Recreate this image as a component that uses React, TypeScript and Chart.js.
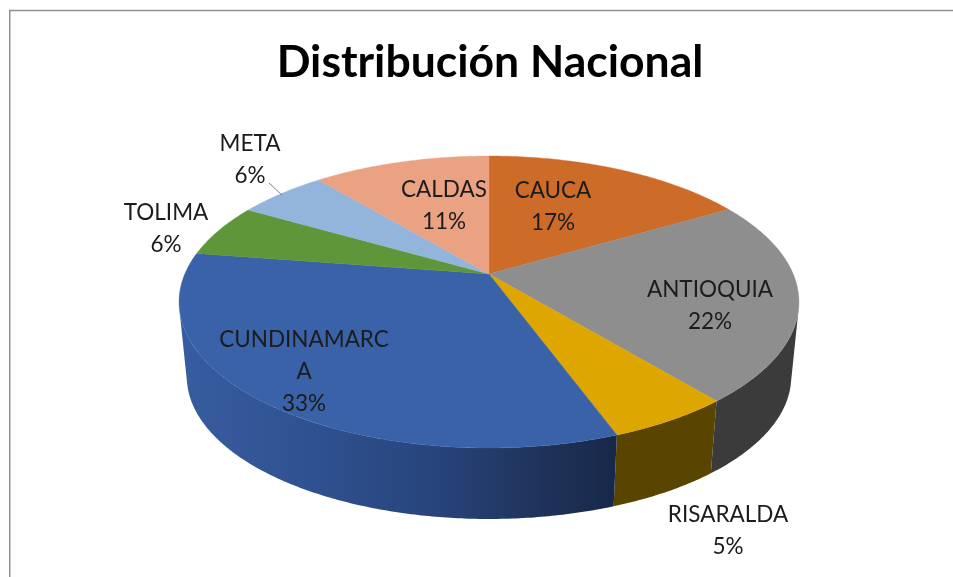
import React, { useEffect, useRef } from "react";
import { Chart, registerables } from "chart.js";

Chart.register(...registerables);

const titleText = "Distribución Nacional";
const categories = ["CAUCA", "ANTIOQUIA", "RISARALDA", "CUNDINAMARCA", "TOLIMA", "META", "CALDAS"];
const shares = [16.6, 22.4, 5.4, 33.0, 5.9, 5.6, 11.1];
const topColors = ["#cd6b28", "#8e8e8e", "#dea600", "#3a62a9", "#5f9639", "#93b5dc", "#eba283"];
const wallColors = ["#7a3f17", "#3b3b3b", "#5a4500", "#2a4680", "#3a5a22", "#5a7ca8", "#a86a50"];

// label centres (x, y of the first line), in canvas pixels
const labelCentres: [number, number][] = [
  [553, 191], [710, 290], [728, 515], [304, 340], [166, 213], [250, 144], [444, 190],
];

// perspective of the tilted disc
const apexX = 489, apexY = 274, spreadX = 304.2, spreadY = 140.6, tilt = 0.1918;
// homothety taking the upper rim to the lower rim
const lowerScale = 0.975, lowerShift = 82.2;
const vanishY = lowerShift / (1 - lowerScale);

const project = (angle: number): [number, number] => {
  const ux = Math.cos(angle), uy = Math.sin(angle);
  const d = 1 - tilt * uy;
  return [apexX + (spreadX * ux) / d, apexY + (spreadY * uy) / d];
};
const lower = ([x, y]: [number, number]): [number, number] => [
  apexX + (x - apexX) * lowerScale,
  y * lowerScale + lowerShift,
];

// angles (around the front of the disc) at which the wall's silhouette touches the rim
const silhouetteRange = (): [number, number] => {
  let best = [0, 0], bestR = -Infinity, bestL = Infinity;
  for (let a = -Math.PI / 2; a <= (3 * Math.PI) / 2; a += 0.0005) {
    const [x, y] = project(a);
    const s = (x - apexX) / (vanishY - y);
    if (s > bestR) { bestR = s; best[0] = a; }
    if (s < bestL) { bestL = s; best[1] = a; }
  }
  return [best[0], best[1]];
};

const disc3d = {
  id: "disc3d",
  beforeDraw(chart: any) {
    const ctx = chart.ctx;
    ctx.save();
    ctx.fillStyle = "#ffffff";
    ctx.fillRect(0, 0, chart.width, chart.height);
    ctx.strokeStyle = "#8f8f8f";
    ctx.lineWidth = 1.5;
    ctx.beginPath();
    ctx.moveTo(chart.width, 10.5);
    ctx.lineTo(9.75, 10.5);
    ctx.lineTo(9.75, chart.height);
    ctx.stroke();
    ctx.restore();
  },
  beforeDatasetDraw(chart: any) {
    const ctx = chart.ctx;
    const arcs = chart.getDatasetMeta(0).data;
    const blue = ctx.createLinearGradient(185, 0, 615, 0);
    blue.addColorStop(0, "#375c9f");
    blue.addColorStop(0.3, "#2f5190");
    blue.addColorStop(0.6, "#27437a");
    blue.addColorStop(0.78, "#21365f");
    blue.addColorStop(1, "#172849");

    const [visFrom, visTo] = silhouetteRange();
    ctx.save();
    arcs.forEach((arc: any, i: number) => {
      const start = Math.max(arc.startAngle, visFrom);
      const end = Math.min(arc.endAngle, visTo);
      if (end <= start) return;
      const n = Math.max(2, Math.ceil((end - start) / 0.01));
      const rim: [number, number][] = [];
      for (let k = 0; k <= n; k++) rim.push(project(start + ((end - start) * k) / n));
      ctx.beginPath();
      rim.forEach((p, k) => (k ? ctx.lineTo(p[0], p[1]) : ctx.moveTo(p[0], p[1])));
      [...rim].reverse().forEach((p) => {
        const q = lower(p);
        ctx.lineTo(q[0], q[1]);
      });
      ctx.closePath();
      ctx.fillStyle = i === 3 ? blue : wallColors[i];
      ctx.fill();
    });
    arcs.forEach((arc: any, i: number) => {
      const { startAngle, endAngle } = arc;
      const n = Math.max(2, Math.ceil((endAngle - startAngle) / 0.01));
      ctx.beginPath();
      ctx.moveTo(apexX, apexY);
      for (let k = 0; k <= n; k++) {
        const p = project(startAngle + ((endAngle - startAngle) * k) / n);
        ctx.lineTo(p[0], p[1]);
      }
      ctx.closePath();
      ctx.fillStyle = topColors[i];
      ctx.strokeStyle = topColors[i];
      ctx.lineWidth = 0.4;
      ctx.fill();
      ctx.stroke();
    });
    ctx.restore();
    return false;
  },
  afterDatasetsDraw(chart: any) {
    const ctx = chart.ctx;
    const total = shares.reduce((s, v) => s + v, 0);
    ctx.save();
    ctx.strokeStyle = "#7f7f7f";
    ctx.lineWidth = 1;
    ctx.beginPath();
    ctx.moveTo(269, 183);
    ctx.lineTo(282, 195);
    ctx.stroke();
    ctx.font = "22.5px Lato";
    ctx.fillStyle = "#1c1c1c";
    ctx.textAlign = "center";
    ctx.textBaseline = "middle";
    categories.forEach((name, i) => {
      const lines =
        name.length > 11 ? [name.slice(0, 11), name.slice(11)] : [name];
      lines.push(`${Math.round((shares[i] / total) * 100)}%`);
      const [x, y] = labelCentres[i];
      lines.forEach((line, j) => ctx.fillText(line, x, y + j * 32));
    });
    ctx.restore();
  },
};

export default function App() {
  const ref = useRef<HTMLCanvasElement>(null);
  useEffect(() => {
    const chart = new Chart(ref.current!, {
      type: "pie",
      data: {
        labels: categories,
        datasets: [{ data: shares, backgroundColor: topColors, borderWidth: 0 }],
      },
      options: {
        animation: false,
        responsive: false,
        layout: { padding: { left: 27, top: 35.6 } },
        plugins: {
          legend: { display: false },
          tooltip: { enabled: false },
          title: {
            display: true,
            text: titleText,
            color: "#000000",
            font: { family: "Lato", size: 44.5, weight: "bold" },
            padding: 0,
          },
        },
      },
      plugins: [disc3d],
    } as any);
    return () => chart.destroy();
  }, []);
  return (
    <canvas
      ref={ref}
      width={953}
      height={577}
      style={{ position: "absolute", left: 0, top: 0, display: "block" }}
    />
  );
}
